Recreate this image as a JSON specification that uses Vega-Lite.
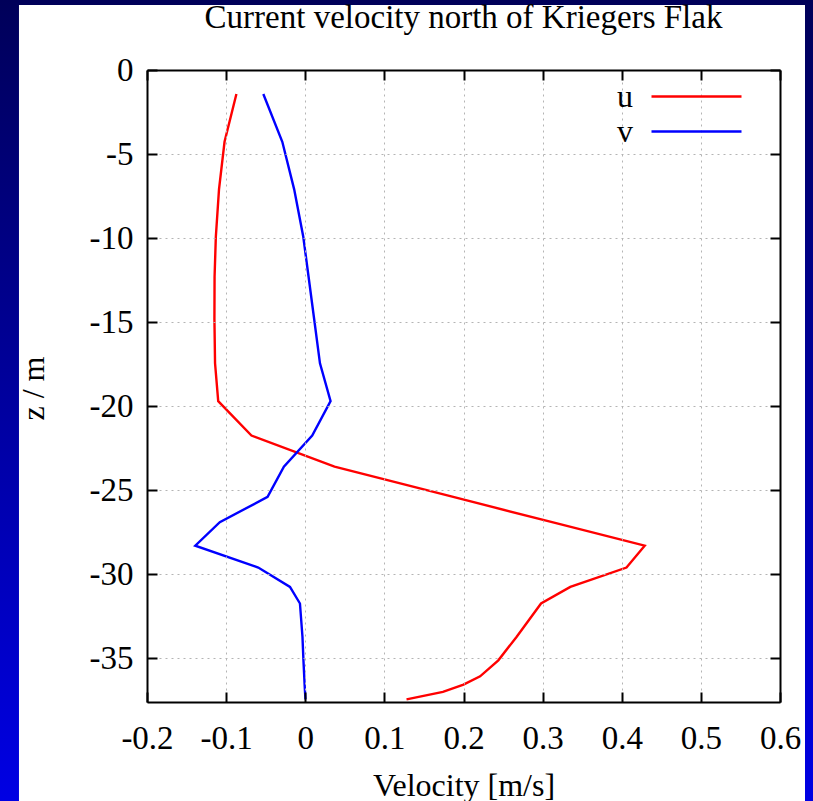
{
  "$schema": "https://vega.github.io/schema/vega-lite/v6.json",
  "width": 633,
  "height": 632,
  "autosize": {"type": "none"},
  "padding": {"left": 147, "top": 70, "right": 33, "bottom": 99},
  "background": "#0000a0",
  "title": {
    "text": "Current velocity north of Kriegers Flak",
    "font": "Liberation Serif",
    "fontSize": 33,
    "fontWeight": "normal",
    "color": "#000000",
    "anchor": "middle",
    "frame": "group",
    "baseline": "alphabetic",
    "offset": 38,
    "dy": 105,
    "zindex": 1
  },
  "config": {
    "view": {"stroke": null},
    "axis": {
      "labelFont": "Liberation Serif",
      "labelFontSize": 33,
      "labelColor": "#000000",
      "titleFont": "Liberation Serif",
      "titleFontSize": 32,
      "titleFontWeight": "normal",
      "titleColor": "#000000",
      "tickColor": "#000000",
      "tickWidth": 2,
      "tickSize": -10,
      "domainColor": "#000000",
      "domainWidth": 2,
      "gridColor": "#b4b4b4",
      "gridDash": [2, 4],
      "gridWidth": 1
    },
    "legend": {
      "orient": "none",
      "legendX": 533,
      "legendY": 10,
      "padding": 0,
      "symbolType": "M-3,0H3",
      "symbolSize": 900,
      "symbolStrokeWidth": 2.4,
      "labelOffset": -80,
      "labelAlign": "right",
      "labelFont": "Liberation Serif",
      "labelFontSize": 32,
      "labelColor": "#000000",
      "labelLimit": 0,
      "rowPadding": 2,
      "zindex": 1
    }
  },
  "resolve": {"axis": {"x": "independent", "y": "independent"}},
  "layer": [
    {
      "data": {"values": [{"panel": "frame"}]},
      "layer": [
        {
          "mark": {
            "type": "rect",
            "fill": {
              "gradient": "linear",
              "x1": 0, "y1": 0, "x2": 0, "y2": 1,
              "stops": [
                {"offset": 0, "color": "#000058"},
                {"offset": 1, "color": "#0000e8"}
              ]
            }
          },
          "encoding": {
            "x": {
              "datum": -0.4,
              "type": "quantitative",
              "scale": {"domain": [-0.2, 0.6], "nice": false, "zero": false},
              "axis": {
                "orient": "bottom",
                "zindex": 1,
                "values": [-0.2, -0.1, 0, 0.1, 0.2, 0.3, 0.4, 0.5, 0.6],
                "labelExpr": "toString(datum.value)",
                "labelPadding": 30,
                "labelBaseline": "top",
                "grid": true,
                "title": "Velocity [m/s]",
                "titleX": 316.5,
                "titleY": 93,
                "titleAlign": "center",
                "titleBaseline": "alphabetic",
                "labelFlush": false,
                "labelOverlap": false
              }
            },
            "x2": {"datum": 0.66},
            "y": {
              "datum": 4.5,
              "type": "quantitative",
              "scale": {"domain": [-37.6, 0], "nice": false, "zero": false},
              "axis": {
                "orient": "left",
                "zindex": 1,
                "values": [-35, -30, -25, -20, -15, -10, -5, 0],
                "labelExpr": "toString(datum.value)",
                "labelPadding": 24,
                "grid": true,
                "title": "z / m",
                "titleX": -114,
                "titleY": 318,
                "titleAngle": -90,
                "titleAlign": "center",
                "titleBaseline": "middle",
                "labelFlush": false,
                "labelOverlap": false
              }
            },
            "y2": {"datum": -45}
          }
        },
        {
          "mark": {"type": "rect", "fill": "#ffffff"},
          "encoding": {
            "x": {"datum": -0.3618, "type": "quantitative"},
            "x2": {"datum": 0.6316},
            "y": {"datum": 3.867, "type": "quantitative"},
            "y2": {"datum": -45}
          }
        }
      ]
    },
    {
      "data": {
        "values": [
          {"series": "u", "z": -1.43, "vel": -0.087},
          {"series": "u", "z": -4.27, "vel": -0.102},
          {"series": "u", "z": -7.1, "vel": -0.109},
          {"series": "u", "z": -9.92, "vel": -0.113},
          {"series": "u", "z": -12.3, "vel": -0.1146},
          {"series": "u", "z": -14.8, "vel": -0.1148},
          {"series": "u", "z": -17.45, "vel": -0.114},
          {"series": "u", "z": -19.7, "vel": -0.11},
          {"series": "u", "z": -21.75, "vel": -0.068},
          {"series": "u", "z": -23.6, "vel": 0.037},
          {"series": "u", "z": -25.4, "vel": 0.187},
          {"series": "u", "z": -26.9, "vel": 0.312},
          {"series": "u", "z": -28.3, "vel": 0.429},
          {"series": "u", "z": -29.6, "vel": 0.406},
          {"series": "u", "z": -30.75, "vel": 0.335},
          {"series": "u", "z": -31.74, "vel": 0.298},
          {"series": "u", "z": -33.73, "vel": 0.267},
          {"series": "u", "z": -35.12, "vel": 0.244},
          {"series": "u", "z": -36.07, "vel": 0.221},
          {"series": "u", "z": -36.57, "vel": 0.2},
          {"series": "u", "z": -37.0, "vel": 0.174},
          {"series": "u", "z": -37.44, "vel": 0.128},
          {"series": "v", "z": -1.43, "vel": -0.053},
          {"series": "v", "z": -4.27, "vel": -0.029},
          {"series": "v", "z": -7.1, "vel": -0.014},
          {"series": "v", "z": -9.92, "vel": -0.0025},
          {"series": "v", "z": -12.3, "vel": 0.0042},
          {"series": "v", "z": -14.8, "vel": 0.0112},
          {"series": "v", "z": -17.45, "vel": 0.0186},
          {"series": "v", "z": -19.7, "vel": 0.032},
          {"series": "v", "z": -21.75, "vel": 0.0088},
          {"series": "v", "z": -23.6, "vel": -0.027},
          {"series": "v", "z": -25.4, "vel": -0.0476},
          {"series": "v", "z": -26.9, "vel": -0.108},
          {"series": "v", "z": -28.3, "vel": -0.139},
          {"series": "v", "z": -29.6, "vel": -0.0594},
          {"series": "v", "z": -30.75, "vel": -0.0193},
          {"series": "v", "z": -31.74, "vel": -0.0067},
          {"series": "v", "z": -33.73, "vel": -0.0035},
          {"series": "v", "z": -35.12, "vel": -0.0023},
          {"series": "v", "z": -36.07, "vel": -0.0013},
          {"series": "v", "z": -36.57, "vel": -0.0008},
          {"series": "v", "z": -37.0, "vel": -0.0003},
          {"series": "v", "z": -37.44, "vel": 0.0003}
        ]
      },
      "mark": {"type": "line", "strokeWidth": 2.4, "clip": false},
      "encoding": {
        "x": {
          "field": "vel",
          "type": "quantitative",
          "scale": {"domain": [-0.2, 0.6], "nice": false, "zero": false},
          "axis": {
            "orient": "top",
            "zindex": 1,
            "values": [-0.2, -0.1, 0, 0.1, 0.2, 0.3, 0.4, 0.5, 0.6],
            "labels": false,
            "grid": false,
            "title": null
          }
        },
        "y": {
          "field": "z",
          "type": "quantitative",
          "scale": {"domain": [-37.6, 0], "nice": false, "zero": false},
          "axis": {
            "orient": "right",
            "zindex": 1,
            "values": [-35, -30, -25, -20, -15, -10, -5, 0],
            "labels": false,
            "grid": false,
            "title": null
          }
        },
        "order": {"field": "z", "sort": "descending"},
        "color": {
          "field": "series",
          "type": "nominal",
          "scale": {"domain": ["u", "v"], "range": ["#ff0000", "#0000ff"]},
          "legend": {"title": null}
        }
      }
    }
  ]
}
